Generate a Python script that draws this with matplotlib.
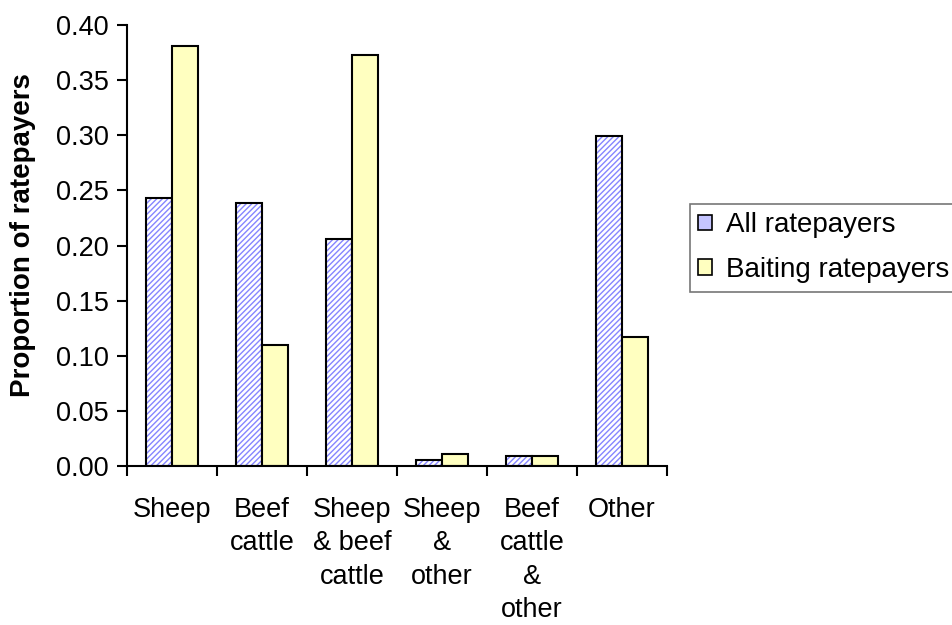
import matplotlib
matplotlib.use("Agg")
import matplotlib.pyplot as plt
import numpy as np
from matplotlib.patches import Patch

plt.rcParams['font.family'] = ['Liberation Sans', 'DejaVu Sans']

categories = ["Sheep", "Beef\ncattle", "Sheep\n& beef\ncattle", "Sheep\n&\nother", "Beef\ncattle\n&\nother", "Other"]
all_ratepayers = [0.243, 0.239, 0.206, 0.005, 0.009, 0.299]
baiting_ratepayers = [0.381, 0.110, 0.373, 0.011, 0.009, 0.117]
series_names = ["All ratepayers", "Baiting ratepayers"]
yticks = [0.00, 0.05, 0.10, 0.15, 0.20, 0.25, 0.30, 0.35, 0.40]

fig = plt.figure(figsize=(9.53, 6.25), dpi=100)
ax = fig.add_axes([127/953, 1-466/625, (667-127)/953, (466-25)/625])

x = np.arange(len(categories))
w = 0.29
# hatched blue bars (two layers: hatch then black outline)
ax.bar(x - w/2, all_ratepayers, w, facecolor='white', edgecolor='#8585ff', hatch='//////', linewidth=0)
ax.bar(x - w/2, all_ratepayers, w, facecolor='none', edgecolor='black', linewidth=1.5)
ax.bar(x + w/2, baiting_ratepayers, w, facecolor='#ffffc0', edgecolor='black', linewidth=1.5)

ax.set_xlim(-0.5, len(categories) - 0.5)
ax.set_ylim(0, 0.40)
ax.set_yticks(yticks)
ax.set_yticklabels([f"{v:.2f}" for v in yticks], fontsize=19.5)
ax.set_xticks(x)
ax.set_xticklabels(categories, fontsize=19.5, va='top', linespacing=1.38)
ax.tick_params(axis='x', length=0, pad=22)
ax.set_xticks(np.arange(len(categories) + 1) - 0.5, minor=True)
ax.tick_params(axis='x', which='minor', length=7, width=1.5, direction='out')
ax.tick_params(axis='y', length=7, width=1.5, direction='out', pad=6)

for s in ['top', 'right']:
    ax.spines[s].set_visible(False)
for s in ['left', 'bottom']:
    ax.spines[s].set_linewidth(1.5)

fig.text(23/953, 1-235/625, "Proportion of ratepayers", rotation=90, fontsize=20,
         fontweight='bold', ha='center', va='center')

handles = [
    Patch(facecolor='#c4c4ff', edgecolor='black', linewidth=1.2),
    Patch(facecolor='#ffffc0', edgecolor='black', linewidth=1.2),
]
leg = fig.legend(handles, series_names, loc='upper left', bbox_to_anchor=(690/953, 1-204/625),
                 fontsize=20, frameon=True, fancybox=False, borderaxespad=0,
                 handlelength=0.5, handleheight=0.5, handletextpad=0.5, labelspacing=0.68,
                 borderpad=0.3)
leg.get_frame().set_edgecolor('#555555')
leg.get_frame().set_linewidth(1.2)

fig.savefig("out.png", dpi=100)
